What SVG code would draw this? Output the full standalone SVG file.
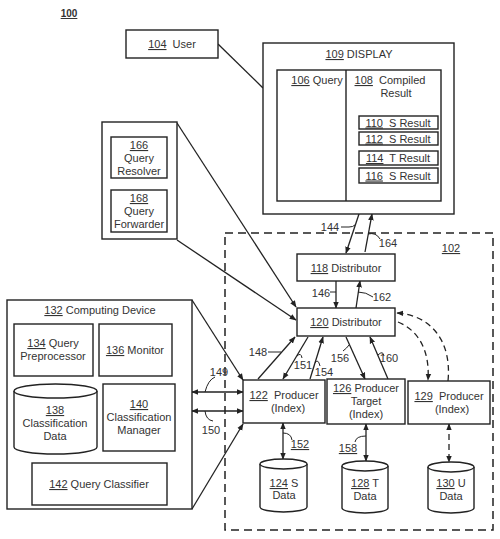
<svg xmlns="http://www.w3.org/2000/svg" width="500" height="539" viewBox="0 0 500 539">
<style>
.b{fill:#fff;stroke:#222;stroke-width:1.4}
.t{font-family:"Liberation Sans",Arial,sans-serif;font-size:11px;fill:#333;text-anchor:middle;white-space:pre}
.u{text-decoration:underline}
.c{stroke:#222;stroke-width:1.3;fill:none}
.k{stroke:#222;stroke-width:1;fill:none}
.dc{stroke:#222;stroke-width:1.3;fill:none;stroke-dasharray:6 4}
</style>
<defs>
<marker id="a" viewBox="0 0 10 10" refX="9" refY="5" markerWidth="7" markerHeight="7" markerUnits="userSpaceOnUse" orient="auto-start-reverse"><path d="M0,1 L10,5 L0,9 z" fill="#222"/></marker>
</defs>
<rect width="500" height="539" fill="#fff"/>
<text x="69" y="17" class="t u" style="font-weight:bold;font-size:10px">100</text>

<g id="n102"><rect x="225" y="233" width="268" height="297" fill="none" stroke="#222" stroke-width="1.5" stroke-dasharray="8 5"/><text x="451" y="252" class="t u">102</text></g>

<g id="connectors">
<path class="c" d="M218,44 L263,88"/>
<path class="c" d="M359,214 L346,253" marker-end="url(#a)"/>
<path class="c" d="M365,252 L372,214" marker-end="url(#a)"/>
<path class="c" d="M336,281 L336,308" marker-end="url(#a)"/>
<path class="c" d="M356,308 L360,281" marker-end="url(#a)"/>
<path class="c" d="M177,123 L296,307" marker-end="url(#a)"/>
<path class="c" d="M177,240 L296,320" marker-end="url(#a)"/>
<path class="c" d="M192,300 L243,380" marker-end="url(#a)"/>
<path class="c" d="M192,509 L243,424" marker-end="url(#a)"/>
<path class="c" d="M192,392 L243,392" marker-start="url(#a)" marker-end="url(#a)"/>
<path class="c" d="M192,411 L243,411" marker-start="url(#a)" marker-end="url(#a)"/>
<path class="c" d="M258,379 L295,337" marker-end="url(#a)"/>
<path class="c" d="M308,337 L283,379" marker-end="url(#a)"/>
<path class="c" d="M310,379 L323,337" marker-end="url(#a)"/>
<path class="c" d="M346,337 L365,379" marker-end="url(#a)"/>
<path class="c" d="M388,379 L370,337" marker-end="url(#a)"/>
<path class="dc" d="M398,322 C418,330 430,350 428,380" marker-end="url(#a)"/>
<path class="dc" d="M448,381 C452,340 430,315 397,313" marker-end="url(#a)"/>
<path class="c" d="M283,423 L283,459" marker-start="url(#a)" marker-end="url(#a)"/>
<path class="c" d="M366,424 L366,461" marker-start="url(#a)" marker-end="url(#a)"/>
<path class="dc" d="M449,424 L449,462" marker-start="url(#a)" marker-end="url(#a)"/>
<path class="k" d="M341,227 L349,227 Q353,227 355,225"/>
<path class="k" d="M368,234 Q376,232 380,239"/>
<path class="k" d="M330,292 L336,292"/>
<path class="k" d="M358,292 Q366,292 373,297"/>
<path class="k" d="M268,352 L281,352"/>
<path class="k" d="M297,356 Q301,352 302,358"/>
<path class="k" d="M315,363 Q318,358 320,366"/>
<path class="k" d="M343,351 Q347,348 349,345"/>
<path class="k" d="M378,355 Q383,350 384,356"/>
<path class="k" d="M283,433 Q291,433 292,440"/>
<path class="k" d="M366,436 Q356,436 355,442"/>
<path class="k" d="M205,392 Q208,380 215,377"/>
<path class="k" d="M205,411 Q206,420 213,421"/>
</g>

<g id="n104"><rect class="b" x="126" y="30" width="92" height="28"/><text x="172" y="48" class="t"><tspan class="u">104</tspan>  User</text></g>

<g id="n109"><rect class="b" x="263" y="43" width="191" height="171"/><text x="359" y="58" class="t"><tspan class="u">109</tspan> DISPLAY</text>
<rect class="b" x="277" y="70" width="164" height="131"/><line x1="346" y1="70" x2="346" y2="201" stroke="#222" stroke-width="1.4"/>
<text x="317" y="84" class="t"><tspan class="u">106</tspan> Query</text>
<text x="390" y="84" class="t"><tspan class="u">108</tspan>  Compiled</text>
<text x="396" y="97" class="t">Result</text></g>

<g id="n110"><rect class="b" x="359" y="116" width="79" height="13"/><text x="398" y="126.5" class="t"><tspan class="u">110</tspan>  S Result</text></g>
<g id="n112"><rect class="b" x="359" y="132" width="79" height="13"/><text x="398" y="142.5" class="t"><tspan class="u">112</tspan>  S Result</text></g>
<g id="n114"><rect class="b" x="359" y="151" width="79" height="14"/><text x="398" y="162" class="t"><tspan class="u">114</tspan>  T Result</text></g>
<g id="n116"><rect class="b" x="359" y="168" width="79" height="15"/><text x="398" y="179.5" class="t"><tspan class="u">116</tspan>  S Result</text></g>

<g id="n165"><rect class="b" x="102" y="122" width="75" height="117"/></g>
<g id="n166"><rect class="b" x="111" y="137" width="56" height="41"/><text x="139" y="149" class="t u">166</text><text x="139" y="162" class="t">Query</text><text x="139" y="175" class="t">Resolver</text></g>
<g id="n168"><rect class="b" x="111" y="190" width="56" height="42"/><text x="139" y="202" class="t u">168</text><text x="139" y="215" class="t">Query</text><text x="139" y="228" class="t">Forwarder</text></g>

<g id="n118"><rect class="b" x="297" y="254" width="98" height="27"/><text x="346" y="272" class="t"><tspan class="u">118</tspan> Distributor</text></g>
<g id="n120"><rect class="b" x="297" y="308" width="98" height="28"/><text x="346" y="326" class="t"><tspan class="u">120</tspan> Distributor</text></g>

<g id="n132"><rect class="b" x="7" y="300" width="185" height="209"/><text x="100" y="314" class="t"><tspan class="u">132</tspan> Computing Device</text></g>
<g id="n134"><rect class="b" x="14" y="324" width="79" height="52"/><text x="53" y="347" class="t"><tspan class="u">134</tspan> Query</text><text x="53" y="360" class="t">Preprocessor</text></g>
<g id="n136"><rect class="b" x="99" y="324" width="73" height="52"/><text x="135" y="354" class="t"><tspan class="u">136</tspan> Monitor</text></g>
<g id="n138"><path class="b" d="M14,391 L14,447 A41.5,7 0 0 0 97,447 L97,391"/><ellipse class="b" cx="55.5" cy="391" rx="41.5" ry="7"/><text x="55" y="414" class="t u">138</text><text x="55" y="427" class="t">Classification</text><text x="55" y="440" class="t">Data</text></g>
<g id="n140"><rect class="b" x="103" y="384" width="72" height="67"/><text x="139" y="408" class="t u">140</text><text x="139" y="421" class="t">Classification</text><text x="139" y="434" class="t">Manager</text></g>
<g id="n142"><rect class="b" x="32" y="463" width="135" height="42"/><text x="99" y="488" class="t"><tspan class="u">142</tspan> Query Classifier</text></g>

<g id="n122"><rect class="b" x="243" y="380" width="82" height="43"/><text x="284" y="399" class="t"><tspan class="u">122</tspan>  Producer</text><text x="288" y="412" class="t">(Index)</text></g>
<g id="n126"><rect class="b" x="327" y="379" width="78" height="45"/><text x="366" y="392" class="t"><tspan class="u">126</tspan> Producer</text><text x="366" y="405" class="t">Target</text><text x="366" y="418" class="t">(Index)</text></g>
<g id="n129"><rect class="b" x="408" y="381" width="82" height="43"/><text x="449" y="400" class="t"><tspan class="u">129</tspan>  Producer</text><text x="452" y="413" class="t">(Index)</text></g>

<g id="n124"><path class="b" d="M260,464 L260,507 A23.5,5 0 0 0 307,507 L307,464"/><ellipse class="b" cx="283.5" cy="464" rx="23.5" ry="5"/><text x="284" y="487" class="t"><tspan class="u">124</tspan> S</text><text x="284" y="499" class="t">Data</text></g>
<g id="n128"><path class="b" d="M342,466 L342,508 A23,5 0 0 0 388,508 L388,466"/><ellipse class="b" cx="365" cy="466" rx="23" ry="5"/><text x="365" y="487" class="t"><tspan class="u">128</tspan> T</text><text x="365" y="500" class="t">Data</text></g>
<g id="n130"><path class="b" d="M428,467 L428,508 A23,5 0 0 0 474,508 L474,467"/><ellipse class="b" cx="451" cy="467" rx="23" ry="5"/><text x="451" y="487" class="t"><tspan class="u">130</tspan> U</text><text x="451" y="500" class="t">Data</text></g>

<g id="labels">
<text x="330" y="231" class="t">144</text>
<text x="388" y="247" class="t">164</text>
<text x="321" y="297" class="t">146</text>
<text x="382" y="301" class="t">162</text>
<text x="258" y="356" class="t">148</text>
<text x="303" y="369" class="t">151</text>
<text x="324" y="376" class="t">154</text>
<text x="340" y="362" class="t">156</text>
<text x="389" y="362" class="t">160</text>
<text x="300" y="448" class="t u">152</text>
<text x="348" y="452" class="t u">158</text>
<text x="219" y="376" class="t">149</text>
<text x="211" y="434" class="t">150</text>
</g>
</svg>
